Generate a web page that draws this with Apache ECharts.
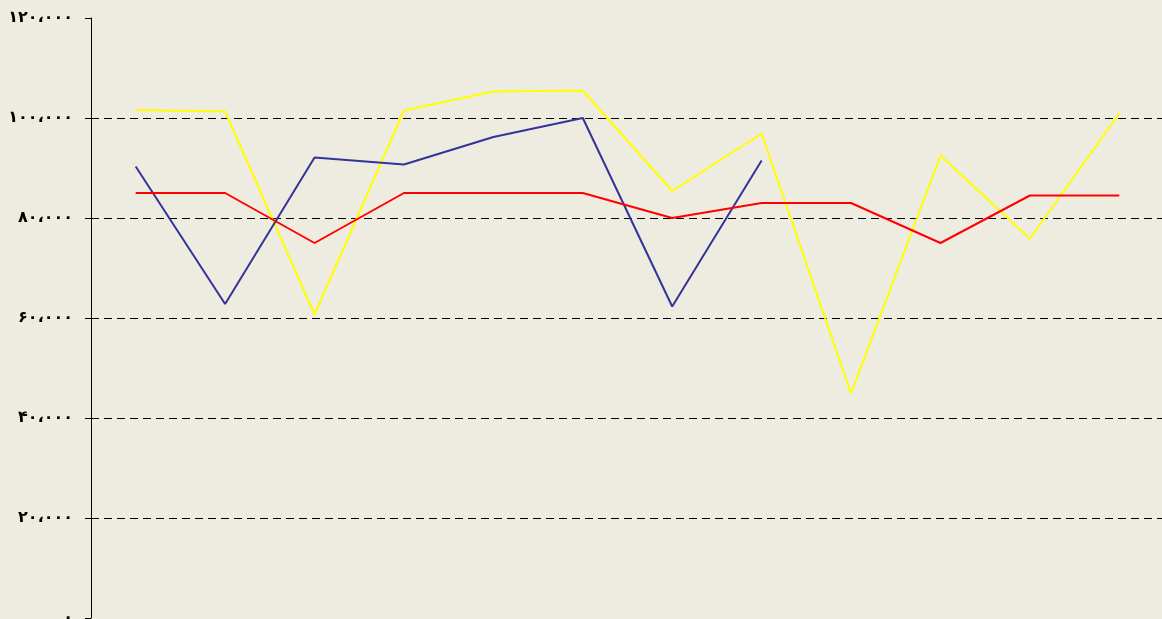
<!DOCTYPE html>
<html>
<head>
<meta charset="utf-8">
<script src="https://cdn.jsdelivr.net/npm/echarts@6/dist/echarts.min.js"></script>
<style>
  html, body { margin: 0; padding: 0; background: #EEECE1; }
  #chart { width: 1162px; height: 619px; }
</style>
</head>
<body>
<div id="chart"></div>
<script>
// categories (no labels shown on the x axis)
const categories = ['1', '2', '3', '4', '5', '6', '7', '8', '9', '10', '11', '12']

// series values
const yellowData = [101600, 101300, 60700, 101500, 105300, 105500, 85400, 96900, 44900, 92500, 75900, 100900]
const blueData = [90300, 62800, 92100, 90700, 96200, 100000, 62300, 91500, null, null, null, null]
const redData = [85000, 85000, 75000, 85000, 85000, 85000, 80000, 83000, 83000, 75000, 84500, 84500]

// y tick labels (Persian digits)
const yTickValues = [0, 20000, 40000, 60000, 80000, 100000, 120000]
const yTickLabels = ['۰', '۲۰،۰۰۰', '۴۰،۰۰۰', '۶۰،۰۰۰', '۸۰،۰۰۰', '۱۰۰،۰۰۰', '۱۲۰،۰۰۰']

const chart = echarts.init(document.getElementById('chart'))

const lineSeries = (data, color) => ({
  type: 'line',
  data: data,
  symbol: 'none',
  connectNulls: false,
  lineStyle: { color: color, width: 2 },
  itemStyle: { color: color },
  animation: false
})

const option = {
  backgroundColor: '#EEECE1',
  grid: {
    left: 91,
    top: 18,
    width: 1073,
    bottom: 1,
    containLabel: false,
    outerBoundsMode: 'none'
  },
  xAxis: {
    type: 'category',
    data: categories,
    boundaryGap: true,
    axisLine: { show: false },
    axisTick: { show: false },
    axisLabel: { show: false }
  },
  yAxis: {
    type: 'value',
    min: 0,
    max: 120000,
    interval: 20000,
    axisLine: { show: true, lineStyle: { color: '#000', width: 1 } },
    axisTick: { show: true, length: 6, lineStyle: { color: '#000' } },
    axisLabel: {
      margin: 18,
      color: '#000',
      fontFamily: 'DejaVu Sans',
      fontSize: 16,
      fontWeight: 'bold',
      formatter (v) {
        const i = yTickValues.indexOf(v)
        return i >= 0 ? yTickLabels[i] : ''
      }
    },
    splitLine: {
      show: true,
      lineStyle: {
        color: ['transparent', '#000', '#000', '#000', '#000', '#000', 'transparent'],
        width: 1,
        type: [8, 5]
      }
    }
  },
  series: [
    lineSeries(yellowData, '#FFFF00'),
    lineSeries(blueData, '#333399'),
    lineSeries(redData, '#FF0000')
  ]
}

chart.setOption(option)
</script>
</body>
</html>
